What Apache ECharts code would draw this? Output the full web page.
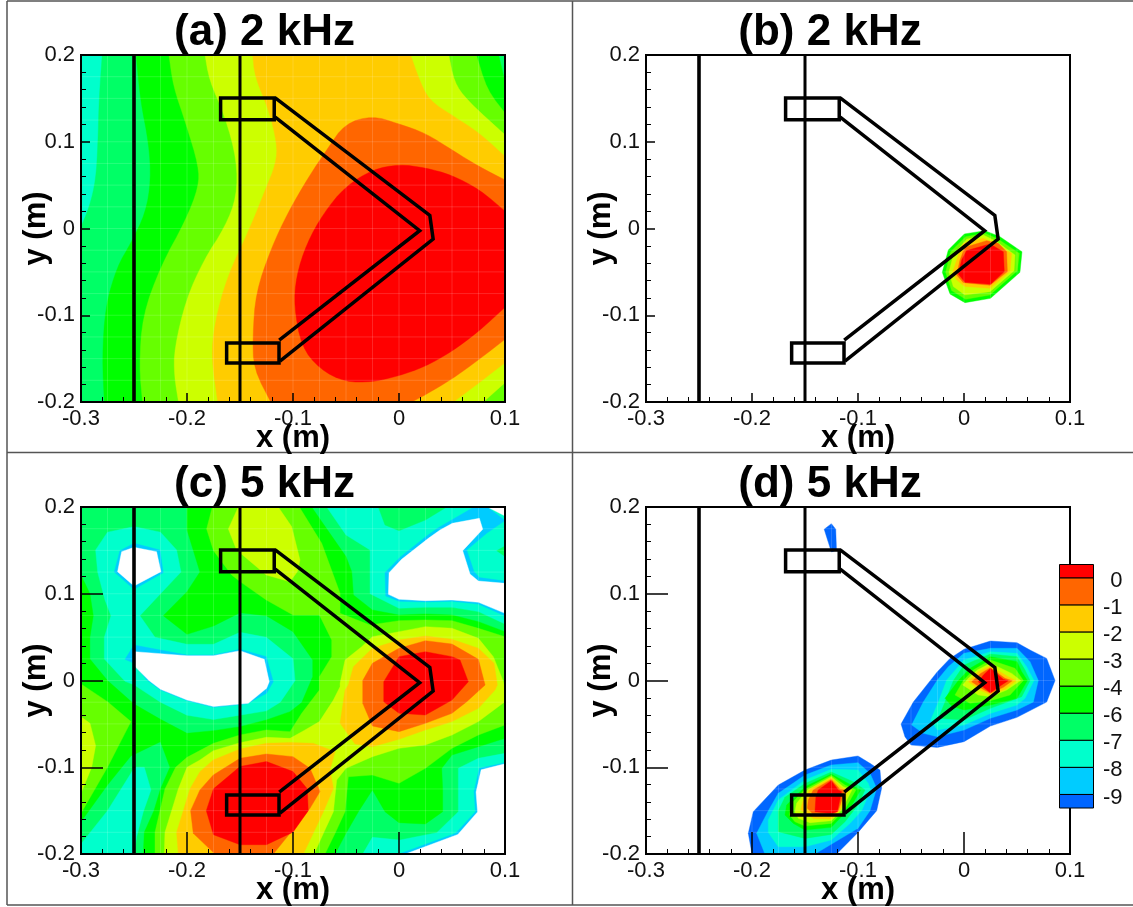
<!DOCTYPE html>
<html><head><meta charset="utf-8"><title>Contours</title>
<script src="https://cdn.jsdelivr.net/npm/echarts@6/dist/echarts.min.js"></script>
<style>html,body{margin:0;padding:0;background:#fff}#c{width:1133px;height:907px}</style></head>
<body><div id="c"></div>
<script>
// ---- categories / labels ----
const panelTitles = ['(a) 2 kHz', '(b) 2 kHz', '(c) 5 kHz', '(d) 5 kHz'];
const legendLabels = ['0', '-1', '-2', '-3', '-4', '-6', '-7', '-8', '-9'];
const xAxisName = 'x (m)';
const yAxisName = 'y (m)';
const cellEdgesX = [-.275,-.25,-.225,-.2,-.175,-.15,-.125,-.1,-.075,-.05,-.025,0,.025,.05,.075];
const cellEdgesY = [.175,.15,.125,.1,.075,.05,.025,0,-.025,-.05,-.075,-.1,-.125,-.15,-.175];

// ---- measurement domain and array geometry (metres) ----
const domain = [[-.3,.2],[.1,.2],[.1,-.2],[-.3,-.2]];
const wallA = [[-.25,.2],[-.25,-.2]];
const wallB = [[-.15,.2],[-.15,-.2]];
const upperBox = [[-.1683,.1505],[-.1177,.1505],[-.1177,.1255],[-.1683,.1255]];
const lowerBox = [[-.1626,-.132],[-.1132,-.132],[-.1132,-.155],[-.1626,-.155]];
const outerV = [[-.1168,.1505],[.0291,.0151],[.0322,-.0121],[-.1123,-.1529]];
const innerV = [[-.1168,.1283],[.0195,-.0025],[-.113,-.1287]];

// ---- panel (a) contour regions, level boundaries ----
const a_m7 = domain;
const a_m6 = [[-.28,.2],[-.283,.148],[-.284,.098],[-.286,.056],[-.292,.025],[-.3,.002],[-.3,-.2],[.1,-.2],[.1,.2]];
const a_m4 = [[-.248,.2],[-.244,.148],[-.236,.098],[-.234,.056],[-.239,.018],[-.253,-.017],[-.266,-.044],[-.277,-.09],[-.28,-.149],[-.278,-.2],[.1,-.2],[.1,.169],[.094,.2]];
const a_m3 = [[-.217,.2],[-.213,.164],[-.201,.121],[-.189,.072],[-.189,.048],[-.201,.01],[-.225,-.044],[-.242,-.101],[-.245,-.159],[-.242,-.2],[.1,-.2],[.1,.133],[.083,.16],[.073,.2]];
const a_m2 = [[-.183,.2],[-.179,.171],[-.164,.129],[-.153,.079],[-.153,.037],[-.164,.002],[-.184,-.036],[-.201,-.082],[-.212,-.139],[-.212,-.17],[-.208,-.2],[.0796,-.2],[.1,-.1778],[.1,.108],[.064,.148],[.052,.169],[.047,.2]];
const a_m1 = [[-.138,.2],[-.136,.175],[-.123,.137],[-.115,.098],[-.116,.075],[-.126,.045],[-.14,.002],[-.162,-.055],[-.174,-.109],[-.177,-.149],[-.171,-.2],[.0513,-.2],[.0749,-.1785],[.1,-.1547],[.1,.083],[.076,.11],[.052,.129],[.028,.148],[.018,.175],[.011,.2]];
const a_m05 = [[-.025,.13],[-.051,.121],[-.068,.091],[-.085,.06],[-.105,.018],[-.121,-.024],[-.135,-.074],[-.138,-.124],[-.137,-.162],[-.121,-.2],[.012,-.2],[.0245,-.192],[.0497,-.1739],[.0749,-.1516],[.1,-.1278],[.1,.056],[.076,.071],[.052,.089],[.025,.11],[-.001,.121]];
const a_0 = [[0,.074],[-.025,.068],[-.051,.048],[-.071,.018],[-.087,-.017],[-.097,-.055],[-.099,-.09],[-.092,-.136],[-.075,-.162],[-.051,-.177],[-.025,-.177],[-.0006,-.1701],[.0245,-.1593],[.0497,-.142],[.0749,-.119],[.1,-.0909],[.1,.02],[.076,.045],[.049,.062],[.025,.07]];

// ---- panel (b) ----
const b_m4 = [[.0003,-.0063],[.0198,-.0025],[.0339,-.0094],[.0522,-.0248],[.0547,-.0267],[.0528,-.0505],[.025,-.0805],[.0009,-.0855],[-.0132,-.0755],[-.0205,-.0505],[-.0148,-.0248]];
const b_m3 = [[.0016,-.0094],[.0198,-.0055],[.0324,-.0124],[.0497,-.0267],[.0522,-.0286],[.0503,-.0486],[.0245,-.0766],[.0016,-.0816],[-.0117,-.0716],[-.0173,-.0505],[-.0126,-.0267]];
const b_m2 = [[.0025,-.0124],[.0182,-.0075],[.0308,-.0151],[.0459,-.0286],[.0481,-.0305],[.0472,-.0486],[.0245,-.0728],[.0009,-.0766],[-.0101,-.067],[-.0142,-.0505],[-.0101,-.0305]];
const b_m1 = [[-.0006,-.0171],[.0182,-.0113],[.0292,-.0171],[.0418,-.0267],[.0449,-.0286],[.0434,-.0497],[.0245,-.0689],[.0009,-.067],[-.0069,-.0593],[-.0107,-.0505],[-.0054,-.0305]];
const b_m05 = [[.0009,-.0217],[.0214,-.014],[.0324,-.0171],[.0402,-.0267],[.0409,-.0497],[.0245,-.0655],[-.0006,-.0624],[-.0069,-.0536],[-.0038,-.0363]];
const b_0 = [[.0025,-.0255],[.0245,-.0178],[.0371,-.0267],[.038,-.0497],[.0251,-.0643],[.0009,-.062],[-.0054,-.0524],[-.0022,-.0363]];

// ---- panel (c) ----
const c_m6_base = domain;
const c_m7_left = [[-.2862,.1505],[-.275,.171],[-.25,.1774],[-.225,.171],[-.2098,.1505],[-.2057,.125],[-.225,.1],[-.2444,.0747],[-.2302,.0498],[-.2,.0417],[-.175,.0417],[-.15,.0555],[-.1252,.0498],[-.1,.025],[-.098,0],[-.112,-.025],[-.125,-.035],[-.15,-.04],[-.175,-.045],[-.2,-.04],[-.225,-.025],[-.25,-.005],[-.2585,-.001],[-.278,.0248],[-.278,.0498],[-.2717,.0747],[-.2774,.0928],[-.2843,.125]];
const c_m7_topRight = [[-.0682,.2],[-.05,.1677],[-.0273,.1505],[-.0273,.1],[0,.0832],[.0249,.0843],[.05,.0843],[.0749,.0794],[.1,.0651],[.1,.2]];
const c_m7_lowLeft = [[-.3,-.1885],[-.275,-.15],[-.2529,-.107],[-.25,-.1],[-.2403,-.1],[-.234,-.1262],[-.2412,-.1512],[-.2475,-.18],[-.25,-.2],[-.3,-.2]];
const c_m7_lowRight = [[.1,-.084],[.0749,-.0897],[.056,-.1012],[.056,-.1512],[.0356,-.1754],[.001,-.1839],[-.0251,-.1808],[-.0342,-.2],[.1,-.2]];
const c_m6_topIsland = [[-.0195,.2],[-.0132,.1793],[0,.1727],[.0249,.185],[.045,.2]];
const c_m6_edgeIsland = [[.0922,.1497],[.1,.155],[.1,.143]];
const c_m8_hole1 = [[-.2633,.1497],[-.25,.1581],[-.2255,.1505],[-.2224,.1243],[-.25,.1051],[-.2686,.1251]];
const c_void_hole1 = [[-.2617,.1485],[-.25,.1535],[-.2287,.1485],[-.2246,.1255],[-.25,.1089],[-.2655,.1255]];
const c_m8_hole2 = [[-.2585,.0244],[-.25,.0409],[-.2,.0294],[-.175,.0294],[-.15,.0359],[-.1252,.0275],[-.1186,-.0013],[-.1249,-.0148],[-.1437,-.0271],[-.175,-.0309],[-.2,-.0232],[-.225,-.011],[-.238,.0006],[-.25,.0198]];
const c_void_hole2 = [[-.2491,.0332],[-.2,.0286],[-.175,.0286],[-.15,.0344],[-.1271,.0244],[-.1224,-.0014],[-.1249,-.009],[-.1422,-.0263],[-.175,-.0301],[-.2,-.0225],[-.225,-.0102],[-.2359,0],[-.2491,.016]];
const c_m8_hole3 = [[-.0132,.1243],[.001,.142],[.0261,.1666],[.0371,.1762],[.0497,.185],[.0708,.2],[.0834,.2],[.1,.1843],[.0827,.1697],[.0639,.1505],[.0708,.1255],[.0758,.1186],[.1,.1147],[.1,.0744],[.0749,.0882],[.05,.0913],[.0249,.0905],[0,.0913],[-.0125,.0974]];
const c_void_hole3 = [[-.0094,.1243],[.0025,.1397],[.0277,.1639],[.0387,.1735],[.0503,.1812],[.0758,.187],[.079,.1743],[.0601,.1497],[.067,.1228],[.0749,.1147],[.1,.112],[.1,.0774],[.0749,.0901],[.05,.0928],[.0249,.092],[0,.0936],[-.01,.0993]];
const c_void_corner = [[.0834,.2],[.1,.2],[.1,.1897]];
const c_m8_hole4 = [[.1,-.0947],[.0758,-.1012],[.0708,-.128],[.0721,-.1512],[.0535,-.1762],[0,-.2],[.1,-.2]];
const c_void_hole4 = [[.1,-.096],[.0775,-.103],[.0727,-.1285],[.0741,-.1515],[.0555,-.1775],[.006,-.2],[.1,-.2]];
const c_m4 = [[-.2,.2],[-.2,.1735],[-.1878,.125],[-.2,.1024],[-.2224,.0747],[-.2,.0532],[-.175,.0628],[-.15,.0782],[-.1252,.0747],[-.1,.0563],[-.0814,.0236],[-.0814,.0044],[-.0918,-.0255],[-.1028,-.0359],[-.1252,-.0455],[-.15,-.0532],[-.175,-.0578],[-.2,-.0609],[-.225,-.0448],[-.25,-.0271],[-.275,0],[-.2916,.0248],[-.2916,.0498],[-.2884,.0747],[-.2916,.1],[-.3,.1216],[-.3,-.1627],[-.275,-.1205],[-.2529,-.087],[-.225,-.0705],[-.2161,-.1],[-.225,-.125],[-.2312,-.15],[-.2403,-.175],[-.2412,-.2],[-.0603,-.2],[-.05,-.1762],[-.0383,-.1512],[-.0251,-.1262],[-.0132,-.1512],[0,-.1639],[.0249,-.1654],[.0412,-.1512],[.0412,-.1262],[.0403,-.1012],[.05,-.0859],[.0749,-.0763],[.1,-.0667],[.1,.0563],[.0749,.0678],[.05,.0755],[.0249,.0767],[0,.0755],[-.0251,.0813],[-.043,.0986],[-.0446,.1255],[-.05,.1428],[-.0751,.187],[-.0824,.2]];
const c_m3_left = [[-.3,-.004],[-.275,-.0244],[-.2529,-.0474],[-.275,-.1],[-.3,-.1531]];
const c_m3_main = [[-.1761,.2],[-.1815,.1747],[-.175,.1497],[-.1579,.1216],[-.15,.114],[-.1252,.0928],[-.1,.0755],[-.0751,.0755],[-.0635,.0467],[-.0635,.0275],[-.0751,.0044],[-.0751,-.011],[-.0918,-.0378],[-.1028,-.059],[-.1252,-.057],[-.15,-.0628],[-.175,-.0724],[-.2,-.0886],[-.2107,-.1],[-.2208,-.125],[-.2255,-.15],[-.2302,-.175],[-.2302,-.2],[-.0698,-.2],[-.0603,-.1762],[-.0509,-.1512],[-.0478,-.1109],[-.0251,-.109],[0,-.1185],[.0249,-.1012],[.05,-.0782],[.0749,-.0628],[.1,-.0513],[.1,.0505],[.0749,.0601],[.05,.069],[.0249,.0698],[0,.069],[-.0273,.064],[-.0556,.0774],[-.0556,.1005],[-.0729,.1581],[-.094,.2]];
const c_m2_left = [[-.3,-.0417],[-.2915,-.0494],[-.2862,-.0751],[-.2899,-.1],[-.3,-.13]];
const c_m2_top = [[-.1516,.2],[-.161,.1747],[-.1532,.1505],[-.1252,.1216],[-.1029,.1139],[-.0959,.1255],[-.0934,.1389],[-.1013,.1774],[-.1139,.2]];
const c_m2_main = [[-.2214,-.2],[-.2208,-.175],[-.2145,-.15],[-.2082,-.125],[-.2,-.1],[-.1878,-.0916],[-.1752,-.0809],[-.15,-.0717],[-.1252,-.0655],[-.1028,-.0667],[-.0887,-.057],[-.0751,-.0474],[-.0619,-.0225],[-.0556,-.0071],[-.0556,-.0033],[-.0509,.0236],[-.0352,.039],[-.0251,.0505],[0,.0563],[.0249,.0621],[.05,.0602],[.0749,.0486],[.089,.0275],[.0985,-.0014],[.1,-.011],[.1,-.0244],[.0749,-.0474],[.05,-.0628],[.0249,-.0743],[0,-.0782],[-.0251,-.0878],[-.05,-.1012],[-.0588,-.1147],[-.0619,-.1512],[-.0713,-.1762],[-.0802,-.2]];
const c_m1_source1 = [[.0906,-.0109],[.0749,-.0321],[.05,-.0474],[.0249,-.057],[0,-.0678],[-.0251,-.0763],[-.0415,-.0732],[-.0556,-.0494],[-.0509,-.0109],[-.0478,-.0052],[-.043,.0159],[-.0251,.0371],[0,.0467],[.0249,.0513],[.05,.0475],[.0749,.0371],[.0897,.0198],[.0928,-.0052]];
const c_m1_source2 = [[-.0603,-.082],[-.0651,-.1032],[-.0619,-.1243],[-.0713,-.1512],[-.0902,-.2],[-.2082,-.2],[-.2098,-.175],[-.2035,-.15],[-.1972,-.125],[-.1878,-.1051],[-.1752,-.0916],[-.15,-.079],[-.1252,-.0724],[-.1028,-.0716],[-.0808,-.0724]];
const c_m05_source1 = [[.0249,.0459],[.05,.042],[.0749,.0244],[.0812,-.0052],[.0639,-.0244],[.05,-.0378],[.0249,-.0494],[0,-.059],[-.0251,-.0524],[-.0342,-.0263],[-.0342,0],[-.0251,.0198],[0,.0371]];
const c_m05_source2 = [[-.1252,-.0847],[-.1,-.0878],[-.084,-.1012],[-.0745,-.128],[-.084,-.1474],[-.1028,-.1762],[-.1186,-.2],[-.1736,-.2],[-.1941,-.1762],[-.1966,-.15],[-.1878,-.1262],[-.1752,-.1089],[-.15,-.0897]];
const c_0_source1 = [[.0249,.0332],[.05,.0275],[.0576,.0236],[.0654,-.0014],[.05,-.0225],[.0249,-.0398],[0,-.0378],[-.0144,-.0244],[-.0144,-.0013],[0,.0275]];
const c_0_source2 = [[-.125,-.0934],[-.1,-.105],[-.0866,-.1249],[-.0856,-.15],[-.1,-.1748],[-.125,-.1893],[-.15,-.1893],[-.175,-.1778],[-.1818,-.15],[-.175,-.1249],[-.15,-.0992]];

// ---- panel (d) ----
const d_m9_speck = [[-.1319,.1743],[-.1251,.1808],[-.121,.1743],[-.1203,.1501],[-.1251,.1482]];
const d_m9_s2 = [[-.2,-.2],[-.2035,-.1762],[-.1988,-.1512],[-.1752,-.1205],[-.15,-.1032],[-.1252,-.0917],[-.1,-.087],[-.0887,-.0955],[-.0793,-.1032],[-.0777,-.1243],[-.0824,-.1501],[-.1,-.1751],[-.1202,-.2]];
const d_m8_s2 = [[-.1878,-.2],[-.1956,-.1762],[-.1846,-.1501],[-.1752,-.1301],[-.15,-.109],[-.1252,-.0974],[-.1,-.0947],[-.0887,-.107],[-.0824,-.1243],[-.0887,-.1501],[-.1,-.1704],[-.1406,-.2]];
const d_m7_s2 = [[-.1752,-.1916],[-.1846,-.1751],[-.1846,-.1608],[-.1752,-.1378],[-.15,-.1147],[-.1252,-.1024],[-.1,-.1032],[-.0903,-.1186],[-.0881,-.1262],[-.0966,-.1501],[-.1076,-.1647],[-.1252,-.1839],[-.15,-.1916]];
const d_m6_s2 = [[-.1752,-.1743],[-.1752,-.1501],[-.1689,-.1347],[-.15,-.1186],[-.1252,-.1055],[-.1045,-.1166],[-.0934,-.1262],[-.1,-.1435],[-.1123,-.1628],[-.1252,-.1774],[-.15,-.182]];
const d_m4_s2 = [[-.1689,-.1551],[-.1673,-.1435],[-.15,-.1224],[-.1252,-.1078],[-.1092,-.1186],[-.0975,-.1262],[-.1076,-.1474],[-.1202,-.1628],[-.1252,-.1693],[-.15,-.1724],[-.161,-.1647]];
const d_m3_s2 = [[-.1648,-.1551],[-.1626,-.1416],[-.15,-.1255],[-.1252,-.1093],[-.1123,-.1205],[-.102,-.1262],[-.1123,-.1485],[-.1252,-.1647],[-.15,-.1678],[-.1595,-.1628]];
const d_m2_s2 = [[-.1595,-.1512],[-.1579,-.1416],[-.1478,-.1262],[-.1252,-.1109],[-.1139,-.1224],[-.1057,-.1262],[-.1155,-.1493],[-.1252,-.1616],[-.1453,-.1639],[-.1563,-.1589]];
const d_m1_s2 = [[-.1541,-.1493],[-.1522,-.1397],[-.1453,-.1255],[-.1252,-.1124],[-.1155,-.1236],[-.1092,-.1262],[-.117,-.1501],[-.1252,-.1597],[-.1422,-.159]];
const d_m05_s2 = [[-.1478,-.1474],[-.1469,-.1378],[-.1422,-.1262],[-.1252,-.114],[-.117,-.1255],[-.1123,-.1262],[-.1186,-.1501],[-.1252,-.1551],[-.1406,-.1562]];
const d_0_s2 = [[-.1406,-.1512],[-.1397,-.1339],[-.1375,-.1262],[-.1252,-.1155],[-.1186,-.1262],[-.1155,-.1282],[-.1195,-.1512],[-.1252,-.1532]];

const d_m9_s1 = [[.0249,.0455],[.05,.0436],[.0623,.0351],[.078,.0255],[.0859,0],[.078,-.0248],[.05,-.0425],[.0249,-.0525],[0,-.0705],[-.0251,-.0771],[-.05,-.0744],[-.0557,-.0648],[-.0594,-.0502],[-.0478,-.0248],[-.0251,.0102],[-.0132,.0255],[0,.036]];
const d_m8_s1 = [[0,.0313],[.0249,.0371],[.05,.0371],[.0623,.0217],[.0701,0],[.0654,-.0248],[.05,-.034],[.0249,-.0436],[0,-.0571],[-.0251,-.0648],[-.0384,-.0609],[-.0494,-.0513],[-.0384,-.0248],[-.0251,.0006],[-.0148,.0159]];
const d_m7_s1 = [[-.0251,-.0571],[-.0314,-.0456],[-.0242,-.0248],[-.0163,.0006],[0,.0236],[.0249,.0332],[.05,.0313],[.0591,.0159],[.066,0],[.0576,-.0206],[.05,-.0283],[.0249,-.0379],[0,-.0513]];
const d_m6_s1 = [[-.0242,-.0436],[-.0179,-.0248],[-.01,0],[0,.0178],[.0249,.0305],[.05,.0275],[.0576,.0121],[.0623,0],[.0544,-.0187],[.0249,-.0321],[0,-.0456]];
const d_m4_s1 = [[-.0179,-.0206],[-.0053,0],[.0057,.0140],[.0249,.0275],[.05,.0217],[.0544,.0102],[.0598,0],[.05,-.0206],[.0249,-.0283],[0,-.034],[-.0116,-.0294]];
const d_m3_s1 = [[-.0085,-.0167],[-.0006,0],[.0088,.0121],[.0249,.0236],[.0481,.0140],[.056,0],[.0434,-.0167],[.0249,-.0233],[.0057,-.0263]];
const d_m2_s1 = [[-.0012,-.0052],[.0041,.0025],[.0126,.0121],[.0249,.0198],[.045,.0082],[.0535,0],[.0403,-.011],[.0249,-.0187],[.0135,-.0167]];
const d_m1_s1 = [[.0041,-.0014],[.0135,.0102],[.0249,.0167],[.0418,.0044],[.0491,-.0002],[.0387,-.0102],[.0249,-.0167],[.0151,-.011]];
const d_m05_s1 = [[.0072,-.0014],[.0157,.0082],[.0249,.0148],[.0387,.0025],[.0456,-.0002],[.0371,-.0079],[.0249,-.0148],[.0167,-.0091]];
const d_0_s1 = [[.0135,-.0014],[.0183,.0063],[.0249,.014],[.0371,.0013],[.0418,-.0002],[.0355,-.0052],[.0249,-.014],[.0183,-.0079]];

// ---- colour ramp, highest level first ----
const rampColors = ['#ff0000','#ff6600','#ffcc00','#ccff00','#66ff00','#00ff00','#00ff66','#00ffcc','#00ccff','#0066ff'];
const [R0,R1,R2,R3,R4,R5,R6,R7,R8,R9] = rampColors;
const VOID = '#ffffff';

const layers = [
  [[R7,a_m7],[R6,a_m6],[R5,a_m4],[R4,a_m3],[R3,a_m2],[R2,a_m1],[R1,a_m05],[R0,a_0]],
  [[R5,b_m4],[R4,b_m3],[R3,b_m2],[R2,b_m1],[R1,b_m05],[R0,b_0]],
  [[R6,c_m6_base],[R7,c_m7_left],[R7,c_m7_topRight],[R7,c_m7_lowLeft],[R7,c_m7_lowRight],[R6,c_m6_topIsland],[R6,c_m6_edgeIsland],
   [R8,c_m8_hole1],[VOID,c_void_hole1],[R8,c_m8_hole2],[VOID,c_void_hole2],[R8,c_m8_hole3],[VOID,c_void_hole3],[VOID,c_void_corner],[R8,c_m8_hole4],[VOID,c_void_hole4],
   [R5,c_m4],[R4,c_m3_left],[R4,c_m3_main],[R3,c_m2_left],[R3,c_m2_top],[R3,c_m2_main],
   [R2,c_m1_source1],[R2,c_m1_source2],[R1,c_m05_source1],[R1,c_m05_source2],[R0,c_0_source1],[R0,c_0_source2]],
  [[R9,d_m9_speck],[R9,d_m9_s2],[R8,d_m8_s2],[R7,d_m7_s2],[R6,d_m6_s2],[R5,d_m4_s2],[R4,d_m3_s2],[R3,d_m2_s2],[R2,d_m1_s2],[R1,d_m05_s2],[R0,d_0_s2],
   [R9,d_m9_s1],[R8,d_m8_s1],[R7,d_m7_s1],[R6,d_m6_s1],[R5,d_m4_s1],[R4,d_m3_s1],[R3,d_m2_s1],[R2,d_m1_s1],[R1,d_m05_s1],[R0,d_0_s1]]
];

const FONT = '"Liberation Sans", Arial, sans-serif';
const panels = [
  {left:81,  top:55,  major:9,  cx:264.5, smooth:true},
  {left:646, top:55,  major:9,  cx:830,   smooth:false},
  {left:81,  top:507, major:22, cx:264.5, smooth:false},
  {left:646, top:507, major:22, cx:830,   smooth:false}
];
const W = 424, H = 347;
const fmt = v => (Math.abs(v) < 1e-9 ? '0' : v.toFixed(1));

// Rounds the drawn outline (panel a has smooth contours); vertices on the domain edge stay put.
function roundOutline(pts, passes){
  const onEdge = p => Math.abs(p.d[0]+.3)<1e-6 || Math.abs(p.d[0]-.1)<1e-6 || Math.abs(p.d[1]-.2)<1e-6 || Math.abs(p.d[1]+.2)<1e-6;
  let cur = pts;
  for (let k=0;k<passes;k++){
    const out=[]; const n=cur.length;
    for (let i=0;i<n;i++){
      const p=cur[i], a=cur[(i-1+n)%n], b=cur[(i+1)%n];
      if (onEdge(p)) { out.push(p); continue; }
      const mix=(q)=>({c:[p.c[0]*.75+q.c[0]*.25,p.c[1]*.75+q.c[1]*.25], d:[p.d[0]*.75+q.d[0]*.25,p.d[1]*.75+q.d[1]*.25]});
      out.push(mix(a)); out.push(mix(b));
    }
    cur=out;
  }
  return cur.map(p=>p.c);
}

const grids = [], xAxes = [], yAxes = [], series = [], titles = [];
panels.forEach((p, i) => {
  grids.push({left:p.left, top:p.top, width:W, height:H, containLabel:false, outerBoundsMode:'none', show:false});
  titles.push({text:panelTitles[i], left:p.cx-5, top:p.top-49, textAlign:'center',
    textStyle:{fontFamily:FONT, fontSize:44, fontWeight:'bold', color:'#000'}});
  const tick = {show:true, inside:true, length:p.major, lineStyle:{color:'#000', width:1.5}};
  const minor = {show:true, splitNumber:5, length:5, lineStyle:{color:'#000', width:1}};
  const labelStyle = {fontFamily:FONT, fontSize:22, color:'#111', margin:6, formatter:fmt, showMinLabel:true, showMaxLabel:true, hideOverlap:false};
  const nameStyle = {fontFamily:FONT, fontSize:31, fontWeight:'bold', color:'#000'};
  xAxes.push({type:'value', gridIndex:i, min:-0.3, max:0.1, interval:0.1, z:2,
    name:xAxisName, nameLocation:'middle', nameGap:21, nameMoveOverlap:false,
    nameTextStyle:nameStyle,
    axisLine:{show:true, onZero:false, lineStyle:{color:'#000', width:2}},
    axisTick:tick, minorTick:minor, splitLine:{show:false}, minorSplitLine:{show:false},
    axisLabel:labelStyle});
  yAxes.push({type:'value', gridIndex:i, min:-0.2, max:0.2, interval:0.1, z:2,
    name:yAxisName, nameLocation:'middle', nameGap:29, nameMoveOverlap:false,
    nameTextStyle:nameStyle,
    axisLine:{show:true, onZero:false, lineStyle:{color:'#000', width:2}},
    axisTick:tick, minorTick:minor, splitLine:{show:false}, minorSplitLine:{show:false},
    axisLabel:labelStyle});

  const L = layers[i];
  series.push({type:'custom', name:panelTitles[i], xAxisIndex:i, yAxisIndex:i, z:1, clip:true, silent:true,
    coordinateSystem:'cartesian2d', animation:false,
    data:L.map(l => l[1][0]),
    renderItem(params, api){
      const l = L[params.dataIndex];
      let pts = l[1].map(pt => api.coord(pt));
      if (p.smooth) pts = roundOutline(l[1].map((d,k)=>({d:d,c:pts[k]})), 2);
      return {type:'polygon', shape:{points:pts}, style:{fill:l[0], stroke:l[0], lineWidth:0.4}};
    }});
  series.push({type:'custom', name:'cell edges '+i, xAxisIndex:i, yAxisIndex:i, z:1.5, clip:true, silent:true,
    coordinateSystem:'cartesian2d', animation:false,
    data:[[-.3,.2]],
    renderItem(params, api){
      const kids = [];
      const line = (a,b) => {const A=api.coord(a),B=api.coord(b);
        kids.push({type:'line', shape:{x1:A[0],y1:A[1],x2:B[0],y2:B[1]}, style:{stroke:'rgba(255,255,255,0.15)', lineWidth:1}});};
      cellEdgesX.forEach(x => line([x,.2],[x,-.2]));
      cellEdgesY.forEach(y => line([-.3,y],[.1,y]));
      return {type:'group', children:kids};
    }});
  series.push({type:'custom', name:'array '+i, xAxisIndex:i, yAxisIndex:i, z:3, clip:false, silent:true,
    coordinateSystem:'cartesian2d', animation:false,
    data:[[-.3,.2]],
    renderItem(params, api){
      const poly = (pts, w, closed) => ({type:closed?'polygon':'polyline', shape:{points:pts.map(pt=>api.coord(pt))},
        style:{fill:'none', stroke:'#000', lineWidth:w, lineJoin:'miter'}});
      return {type:'group', children:[
        poly(wallA,3.6,false), poly(wallB,3,false),
        poly(upperBox,3.5,true), poly(lowerBox,3.5,true),
        poly(outerV,3.5,false), poly(innerV,3.5,false),
        poly(domain,2,true)
      ]};
    }});
});

// colour legend in panel (d), drawn on its own index axis
const legendGrid = 4;
grids.push({left:1059.5, top:564.5, width:34, height:243.5, outerBoundsMode:'none', show:false});
xAxes.push({type:'value', gridIndex:legendGrid, min:0, max:1, show:false});
yAxes.push({type:'value', gridIndex:legendGrid, min:-0.5, max:8.5, inverse:true, show:false});
series.push({type:'custom', name:'legend', xAxisIndex:legendGrid, yAxisIndex:legendGrid, z:3, clip:false, silent:true,
  coordinateSystem:'cartesian2d', animation:false,
  data:rampColors.map((c,i)=>[0,i]),
  renderItem(params, api){
    const i = params.dataIndex;
    const top = i === 0 ? -0.5 : i-1, bot = i === 9 ? 8.5 : i;
    const a = api.coord([0,top]), b = api.coord([1,bot]);
    const kids = [{type:'rect', shape:{x:a[0],y:a[1],width:b[0]-a[0],height:b[1]-a[1]},
      style:{fill:rampColors[i], stroke:'#000', lineWidth:1}}];
    if (i < 9) {
      const t = api.coord([1,i]);
      kids.push({type:'text', x:t[0]+29, y:t[1]+3, style:{text:legendLabels[i], textAlign:'right', textVerticalAlign:'middle',
        fontFamily:FONT, fontSize:22, fill:'#111'}});
    }
    return {type:'group', children:kids};
  }});

// panel frames of the composite figure
const rule = (x1,y1,x2,y2) => ({type:'line', shape:{x1,y1,x2,y2}, style:{stroke:'#555', lineWidth:1.5}, silent:true});
const chart = echarts.init(document.getElementById('c'), null, {renderer:'canvas', width:1133, height:907});
chart.setOption({
  animation:false, backgroundColor:'#fff',
  title:titles, grid:grids, xAxis:xAxes, yAxis:yAxes, series,
  graphic:[rule(7,1,1133,1), rule(7,1,7,905), rule(572.5,1,572.5,905), rule(7,452.5,1133,452.5), rule(7,905,1133,905)]
});
</script></body></html>
